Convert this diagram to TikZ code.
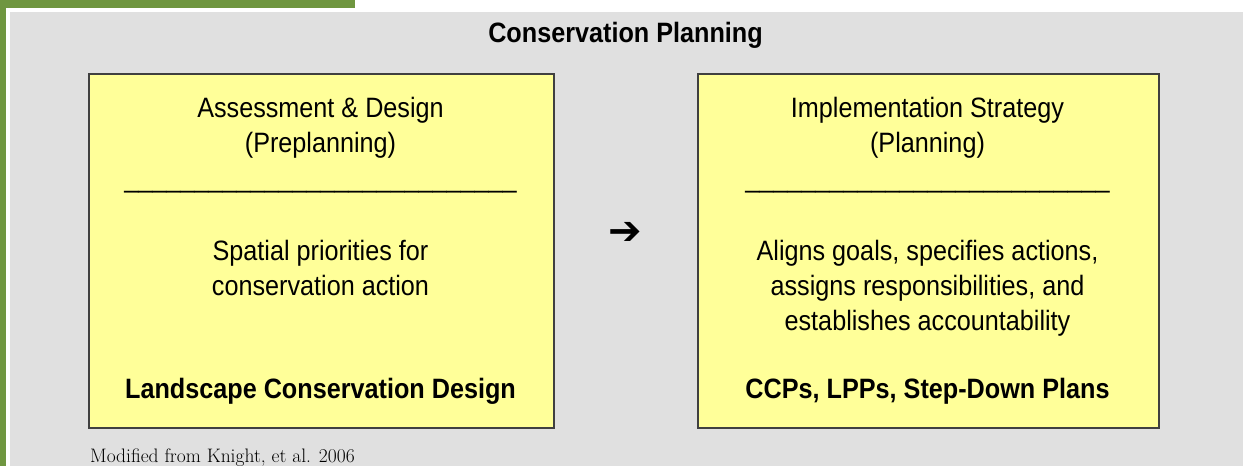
\documentclass[tikz,border=0pt]{standalone}
\usepackage{fontspec}
\setsansfont{Liberation Sans}[FakeStretch=0.9]
\newfontfamily\dejavu{DejaVu Sans}
\definecolor{frameg}{HTML}{6F9640}
\definecolor{panel}{HTML}{E0E0E0}
\definecolor{boxfill}{HTML}{FFFF99}
\definecolor{boxline}{HTML}{404040}
\tikzset{
  box/.style={draw=boxline, line width=1.5pt, fill=boxfill, anchor=north west, inner sep=0},
  body/.style={font=\sffamily\fontsize{28}{35}\selectfont, align=center, anchor=base, inner sep=0},
  boldbody/.style={font=\sffamily\bfseries\fontsize{28}{35}\selectfont, align=center, anchor=base, inner sep=0}
}
\begin{document}
\begin{tikzpicture}[x=1pt,y=-1pt]
\useasboundingbox (0,0) rectangle (1243,466);
\fill[white] (0,0) rectangle (1243,466);
\fill[frameg] (0,0) rectangle (355,8);
\fill[frameg] (0,0) rectangle (6,466);
\fill[panel] (10,12) rectangle (1243,466);
\node[boldbody] (title) at (625.5,42) {Conservation Planning};
\node[box, minimum width=465pt, minimum height=354pt] (left) at (88,73) {};
\node[box, minimum width=461pt, minimum height=354pt] (right) at (697,73) {};
% multi-line nodes: base anchor is the baseline of the last line
\node[body] (lhead) at (320.5,152) {Assessment \& Design\\(Preplanning)};
\node[body] (lrule) at (320.5,187) {\_\_\_\_\_\_\_\_\_\_\_\_\_\_\_\_\_\_\_\_\_\_\_\_\_\_\_\_};
\node[body] (ltext) at (320.5,295) {Spatial priorities for\\conservation action};
\node[boldbody] (lfoot) at (320.5,398) {Landscape Conservation Design};
\node[body] (rhead) at (927.5,152) {Implementation Strategy\\(Planning)};
\node[body] (rrule) at (927.5,187) {\_\_\_\_\_\_\_\_\_\_\_\_\_\_\_\_\_\_\_\_\_\_\_\_\_\_};
\node[body] (rtext) at (927.5,330) {Aligns goals, specifies actions,\\assigns responsibilities, and\\establishes accountability};
\node[boldbody] (rfoot) at (927.5,398) {CCPs, LPPs, Step-Down Plans};
\node[font=\dejavu\bfseries\fontsize{40}{40}\selectfont, inner sep=0] (arrow) at (625,233) {➔};
\node[anchor=base west, font=\rmfamily\fontsize{19.5}{22}\selectfont, inner sep=0] (credit) at (90,462) {Modified from Knight, et al. 2006};
\end{tikzpicture}
\end{document}
